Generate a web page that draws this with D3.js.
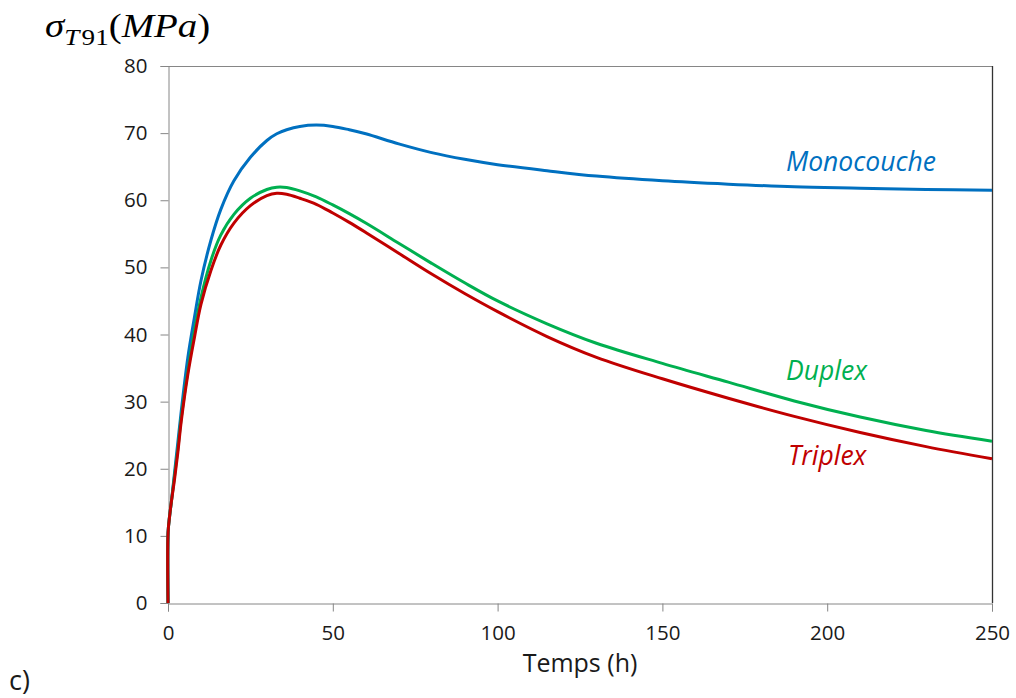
<!DOCTYPE html>
<html>
<head>
<meta charset="utf-8">
<script src="https://cdn.jsdelivr.net/npm/d3@7"></script>
<style>
  html, body { margin: 0; padding: 0; background: #fff; }
  svg { display: block; }
</style>
</head>
<body>
<svg id="chart" width="1016" height="698"></svg>
<script>
// ---- data ----
const times      = [0, 0.02, 0.5, 1, 2, 3, 4, 6, 8, 10, 13, 16, 20, 25, 30, 33, 36, 40, 45, 50, 55, 60, 70, 80, 90, 100, 115, 130, 150, 170, 190, 210, 230, 250];
const monocouche = [0, 10.5, 13, 15, 19.5, 24, 28.5, 36.5, 42.5, 48, 54, 58.6, 62.9, 66.4, 68.9, 69.9, 70.5, 71.0, 71.2, 71.0, 70.5, 69.9, 68.4, 67.1, 66.1, 65.3, 64.4, 63.6, 62.9, 62.4, 62.0, 61.8, 61.6, 61.5];
const duplex     = [0, 10.5, 13, 15, 19, 23, 27.5, 34.5, 40.5, 45.5, 51, 54.8, 57.9, 60.3, 61.6, 61.95, 61.9, 61.4, 60.5, 59.3, 58.0, 56.6, 53.6, 50.6, 47.7, 45.0, 41.6, 38.7, 35.7, 32.9, 30.1, 27.7, 25.7, 24.1];
const triplex    = [0, 10.5, 13, 15, 18.5, 22.5, 27, 34, 39.5, 44.5, 49.5, 53.3, 56.6, 59.2, 60.7, 61.05, 60.9, 60.3, 59.4, 58.1, 56.7, 55.2, 52.1, 49.0, 46.1, 43.4, 39.7, 36.6, 33.4, 30.5, 27.8, 25.4, 23.3, 21.5];
const seriesNames  = ["Monocouche", "Duplex", "Triplex"];
const seriesColors = ["#0070C0", "#00B050", "#C00000"];
const xTicks = [0, 50, 100, 150, 200, 250];
const yTicks = [0, 10, 20, 30, 40, 50, 60, 70, 80];
const xTitle = "Temps (h)";
const panelLabel = "c)";

// ---- layout ----
const svg = d3.select("#chart");
const pLeft = 168, pRight = 992, pTop = 66, pBottom = 603;
const x = d3.scaleLinear().domain([0, 250]).range([pLeft, pRight]);
const y = d3.scaleLinear().domain([0, 80]).range([pBottom, pTop]);
const axisGray = "#868686";
const labelFont = "'Open Sans', sans-serif";

// top border (gray) and right border (dark)
svg.append("line").attr("x1", pLeft).attr("x2", pRight).attr("y1", pTop + 0.5).attr("y2", pTop + 0.5)
  .attr("stroke", axisGray).attr("stroke-width", 1);
svg.append("line").attr("x1", pRight + 0.5).attr("x2", pRight + 0.5).attr("y1", pTop).attr("y2", pBottom)
  .attr("stroke", "#333").attr("stroke-width", 1.3);

// y axis
const yAxis = svg.append("g").attr("transform", `translate(${pLeft + 0.5},0)`)
  .call(d3.axisLeft(y).tickValues(yTicks).tickSize(8).tickPadding(13).tickFormat(d3.format("d")));
// x axis
const xAxis = svg.append("g").attr("transform", `translate(0,${pBottom + 0.5})`)
  .call(d3.axisBottom(x).tickValues(xTicks).tickSize(8).tickPadding(14).tickFormat(d3.format("d")));

[yAxis, xAxis].forEach(g => {
  g.select(".domain").attr("stroke", axisGray);
  g.selectAll(".tick line").attr("stroke", axisGray);
  g.selectAll(".tick text").attr("fill", "#1a1a1a").style("font-family", labelFont).style("font-size", "20.5px");
});

// curves
const allSeries = [monocouche, duplex, triplex];
const line = d3.line()
  .x((d, i) => x(times[i]))
  .y(d => y(d))
  .curve(d3.curveCatmullRom.alpha(0.5));

allSeries.forEach((vals, k) => {
  svg.append("path")
    .datum(vals)
    .attr("d", line)
    .attr("fill", "none")
    .attr("stroke", seriesColors[k])
    .attr("stroke-width", 3)
    .attr("stroke-linejoin", "round");
});

// series labels
const labelPos = [[786, 171], [786, 380], [788, 465]];
seriesNames.forEach((name, k) => {
  svg.append("text")
    .attr("x", labelPos[k][0]).attr("y", labelPos[k][1])
    .attr("fill", seriesColors[k])
    .style("font-family", labelFont).style("font-style", "italic").style("font-size", "26.5px")
    .text(name);
});

// x title
svg.append("text").attr("x", 580).attr("y", 672).attr("text-anchor", "middle")
  .attr("fill", "#1a1a1a").style("font-family", labelFont).style("font-size", "25px")
  .text(xTitle);

// panel label
svg.append("text").attr("x", 9).attr("y", 690)
  .attr("fill", "#1a1a1a").style("font-family", labelFont).style("font-size", "27px")
  .text(panelLabel);

// y title: σ_T91(MPa), slightly stretched like the source
const tg = svg.append("g");
const yt = tg.append("text").attr("x", 0).attr("y", 0)
  .attr("fill", "#000").style("font-family", "'Liberation Serif', 'Times New Roman', serif").style("font-size", "33px");
yt.append("tspan").style("font-style", "italic").text("σ");
yt.append("tspan").attr("dy", 8).style("font-style", "italic").style("font-size", "23px").text("T");
yt.append("tspan").attr("dx", 2).style("font-size", "23px").text("91");
yt.append("tspan").attr("dy", -8).text("(");
yt.append("tspan").style("font-style", "italic").text("MPa");
yt.append("tspan").text(")");
const natW = yt.node().getComputedTextLength();
const sx = 163 / natW;
tg.attr("transform", `translate(45,37) scale(${sx},1)`);
</script>
</body>
</html>
